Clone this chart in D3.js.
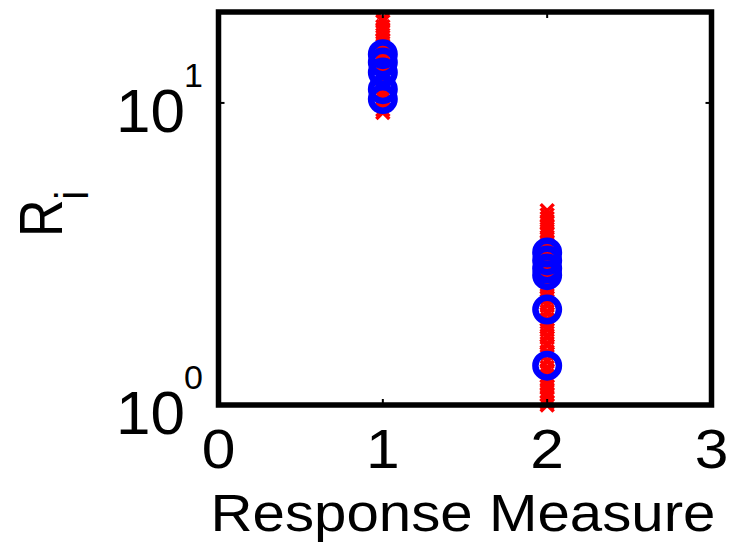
<!DOCTYPE html>
<html>
<head>
<meta charset="utf-8">
<script src="https://cdn.jsdelivr.net/npm/d3@7"></script>
<style>
  html, body { margin: 0; padding: 0; background: #fff; }
  svg { display: block; font-family: "Liberation Sans", Arial, sans-serif; }
</style>
</head>
<body>
<svg id="chart" width="737" height="542"></svg>
<script>
// Response measures on the x axis
const measures = [1, 2];

// Sampled R_i values (red crosses) for each response measure
const samples1 = [19.0, 18.6, 17.9, 17.4, 16.8, 16.2, 15.8, 15.2, 14.9, 14.3, 14.0, 13.5,
                  13.2, 12.7, 12.4, 12.0, 11.6, 11.3, 11.0, 10.6, 10.4, 10.0, 9.8, 9.5, 9.3];
const samples2 = [4.40, 4.26, 4.15, 4.01, 3.90, 3.77, 3.68, 3.55, 3.46, 3.34, 3.26, 3.14,
                  3.07, 2.95, 2.88, 2.78, 2.71, 2.61, 2.55, 2.46, 2.40, 2.31, 2.26, 2.17,
                  2.13, 2.04, 2.00, 1.92, 1.88, 1.81, 1.77, 1.70, 1.67, 1.60, 1.57, 1.50,
                  1.48, 1.41, 1.39, 1.33, 1.30, 1.25, 1.22, 1.18, 1.15, 1.11, 1.08, 1.05,
                  1.02, 1.00];

// Computed R_i values (blue circles) for each response measure
const results1 = [14.5, 13.6, 12.6, 11.1, 10.3];
const results2 = [3.20, 3.01, 2.83, 2.69, 2.07, 1.35];

// Axis ticks
const xTickValues = [0, 1, 2, 3];
const xTickLabels = ["0", "1", "2", "3"];
const yTickValues = [1, 10];
const yTickExponents = ["0", "1"];

const svg = d3.select("#chart");

const plot = { left: 218.5, right: 711.5, top: 12, bottom: 405 };

const x = d3.scaleLinear().domain([0, 3]).range([plot.left, plot.right]);
const y = d3.scaleLog().domain([1, 20]).range([plot.bottom, plot.top]);

const crossData = [
  ...samples1.map(v => ({ m: measures[0], v })),
  ...samples2.map(v => ({ m: measures[1], v }))
];
const circleData = [
  ...results1.map(v => ({ m: measures[0], v })),
  ...results2.map(v => ({ m: measures[1], v }))
];

// Red cross markers
const s = 6.5;
svg.append("g")
  .selectAll("path")
  .data(crossData)
  .join("path")
  .attr("transform", d => `translate(${x(d.m)},${y(d.v)})`)
  .attr("d", `M${-s},${-s}L${s},${s}M${-s},${s}L${s},${-s}`)
  .attr("fill", "none")
  .attr("stroke", "#ff0000")
  .attr("stroke-width", 3.5);

// Blue circle markers
svg.append("g")
  .selectAll("circle")
  .data(circleData)
  .join("circle")
  .attr("cx", d => x(d.m))
  .attr("cy", d => y(d.v))
  .attr("r", 11.75)
  .attr("fill", "none")
  .attr("stroke", "#0000ff")
  .attr("stroke-width", 6.5);

// Tick marks (inward, on all four sides)
const tickLen = 6;
const ticks = svg.append("g").attr("stroke", "#000").attr("stroke-width", 2);
[1, 2].forEach(v => {
  ticks.append("line").attr("x1", x(v)).attr("x2", x(v)).attr("y1", plot.bottom).attr("y2", plot.bottom - tickLen);
  ticks.append("line").attr("x1", x(v)).attr("x2", x(v)).attr("y1", plot.top).attr("y2", plot.top + tickLen);
});
[10].forEach(v => {
  ticks.append("line").attr("x1", plot.left).attr("x2", plot.left + tickLen).attr("y1", y(v)).attr("y2", y(v));
  ticks.append("line").attr("x1", plot.right).attr("x2", plot.right - tickLen).attr("y1", y(v)).attr("y2", y(v));
});

// Axes box
svg.append("rect")
  .attr("x", plot.left).attr("y", plot.top)
  .attr("width", plot.right - plot.left).attr("height", plot.bottom - plot.top)
  .attr("fill", "none")
  .attr("stroke", "#000")
  .attr("stroke-width", 5.5);

// X tick labels
svg.append("g")
  .selectAll("text")
  .data(xTickValues)
  .join("text")
  .attr("transform", d => `translate(${x(d)},468) scale(1.1,1)`)
  .attr("text-anchor", "middle")
  .attr("font-size", 55)
  .attr("fill", "#000")
  .text((d, i) => xTickLabels[i]);

// Y tick labels as powers of ten
const yLab = svg.append("g")
  .selectAll("text")
  .data(yTickValues)
  .join("text")
  .attr("x", 116)
  .attr("y", d => y(d) + 29)
  .attr("font-size", 62)
  .attr("fill", "#000");
yLab.append("tspan").text("10");
yLab.append("tspan")
  .attr("x", 184)
  .attr("dy", -45)
  .attr("font-size", 34)
  .text((d, i) => yTickExponents[i]);

// X axis title
svg.append("text")
  .attr("transform", "translate(463,531) scale(1.12,1)")
  .attr("text-anchor", "middle")
  .attr("font-size", 52)
  .attr("fill", "#000")
  .text("Response Measure");

// Y axis title R_i
const yTitle = svg.append("text")
  .attr("transform", "translate(62,237) rotate(-90) scale(1,1.18)")
  .attr("font-size", 52)
  .attr("fill", "#000");
yTitle.append("tspan").text("R");
yTitle.append("tspan").attr("dy", 22).attr("font-size", 39).text("i");
</script>
</body>
</html>
